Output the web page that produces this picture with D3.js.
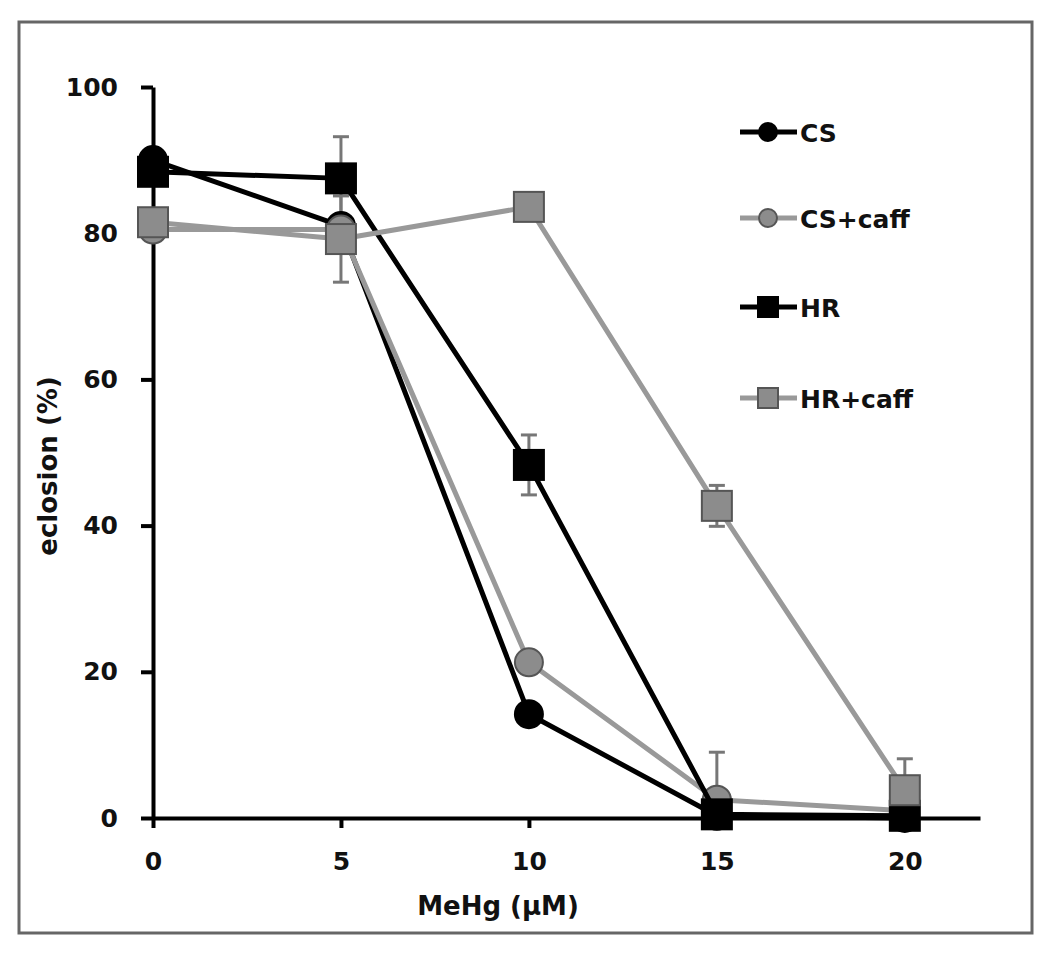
<!DOCTYPE html>
<html><head><meta charset="utf-8">
<script src="https://cdnjs.cloudflare.com/ajax/libs/d3/7.8.5/d3.min.js"></script>
<style>body{margin:0;background:#fff}svg{display:block}</style>
</head><body>
<script>
const doses = [0, 5, 10, 15, 20];
const xTicks = [0, 5, 10, 15, 20];
const yTicks = [0, 20, 40, 60, 80, 100];
const seriesNames = ["CS", "CS+caff", "HR", "HR+caff"];
const csVals     = [90.0, 81.0, 14.2, 0.3, 0.0];
const csCaffVals = [80.5, 80.5, 21.3, 2.5, 1.0];
const hrVals     = [88.4, 87.5, 48.3, 0.5, 0.3];
const hrCaffVals = [81.5, 79.2, 83.6, 42.7, 3.8];
const csErr     = [0, 0, 0, 0, 0];
const csCaffErr = [0, 0, 0, 6.5, 0];
const hrErr     = [0, 5.7, 4.1, 0, 0];
const hrCaffErr = [0, 5.9, 0, 2.8, 4.3];

const series = [
  {name: seriesNames[0], vals: csVals, err: csErr, shape: "circle", fill: "#000", stroke: "#000", line: "#000"},
  {name: seriesNames[1], vals: csCaffVals, err: csCaffErr, shape: "circle", fill: "#8c8c8c", stroke: "#555", line: "#999"},
  {name: seriesNames[2], vals: hrVals, err: hrErr, shape: "square", fill: "#000", stroke: "#000", line: "#000"},
  {name: seriesNames[3], vals: hrCaffVals, err: hrCaffErr, shape: "square", fill: "#8c8c8c", stroke: "#555", line: "#999"}
];

const W = 1050, H = 955;
const svg = d3.select("body").append("svg").attr("width", W).attr("height", H);
svg.append("rect").attr("x", 19).attr("y", 22).attr("width", 1013).attr("height", 911)
  .attr("fill", "#fff").attr("stroke", "#666").attr("stroke-width", 3);

const x = d3.scaleLinear().domain([0, 22]).range([153, 980]);
const y = d3.scaleLinear().domain([0, 100]).range([818, 87]);
const font = "'DejaVu Sans', sans-serif";

// axes
const yAxis = svg.append("g").attr("transform", `translate(${x(0)},0)`)
  .call(d3.axisLeft(y).tickValues(yTicks).tickSize(12).tickPadding(23).tickSizeOuter(0));
yAxis.select(".domain").attr("stroke", "#000").attr("stroke-width", 4);
yAxis.selectAll(".tick line").attr("stroke", "#000").attr("stroke-width", 4);
yAxis.selectAll(".tick text").attr("font-family", font).attr("font-weight", "bold").attr("font-size", 25).attr("fill", "#111");

const xAxis = svg.append("g").attr("transform", `translate(0,${y(0)})`)
  .call(d3.axisBottom(x).tickValues(xTicks).tickSize(10).tickPadding(24).tickSizeOuter(0));
xAxis.select(".domain").attr("stroke", "#000").attr("stroke-width", 4);
xAxis.selectAll(".tick line").attr("stroke", "#000").attr("stroke-width", 4);
xAxis.selectAll(".tick text").attr("font-family", font).attr("font-weight", "bold").attr("font-size", 25).attr("fill", "#111");

svg.append("text").attr("x", 498).attr("y", 915).attr("text-anchor", "middle")
  .attr("font-family", font).attr("font-weight", "bold").attr("font-size", 26).attr("fill", "#111")
  .text("MeHg (µM)");
svg.append("text").attr("transform", "translate(57,466) rotate(-90)").attr("text-anchor", "middle")
  .attr("font-family", font).attr("font-weight", "bold").attr("font-size", 26).attr("fill", "#111")
  .text("eclosion (%)");

function marker(g, s, cx, cy, r) {
  if (s.shape === "circle") {
    g.append("circle").attr("cx", cx).attr("cy", cy).attr("r", r)
      .attr("fill", s.fill).attr("stroke", s.stroke).attr("stroke-width", 2);
  } else {
    g.append("rect").attr("x", cx - r).attr("y", cy - r).attr("width", 2 * r).attr("height", 2 * r)
      .attr("fill", s.fill).attr("stroke", s.stroke).attr("stroke-width", 2);
  }
}

const plot = svg.append("g");
// error bars (lower arm clipped at the x axis)
series.forEach(s => {
  doses.forEach((d, i) => {
    if (!s.err[i]) return;
    const cx = x(d);
    const hi = s.vals[i] + s.err[i], lo = s.vals[i] - s.err[i];
    const y1 = y(hi), y2 = y(Math.max(lo, 0));
    plot.append("line").attr("x1", cx).attr("x2", cx).attr("y1", y1).attr("y2", y2)
      .attr("stroke", "#777").attr("stroke-width", 3);
    const caps = lo >= 0 ? [y1, y2] : [y1];
    caps.forEach(yy => plot.append("line").attr("x1", cx - 8).attr("x2", cx + 8).attr("y1", yy).attr("y2", yy)
      .attr("stroke", "#777").attr("stroke-width", 3));
  });
});

const lineGen = d3.line().x((d, i) => x(doses[i])).y(d => y(d));
series.forEach(s => {
  const g = plot.append("g");
  g.append("path").attr("d", lineGen(s.vals)).attr("fill", "none")
    .attr("stroke", s.line).attr("stroke-width", 5).attr("stroke-linejoin", "round");
  doses.forEach((d, i) => marker(g, s, x(d), y(s.vals[i]), s.shape === "circle" ? 14 : 15));
});

// legend
const legY = [132, 218, 307, 398];
series.forEach((s, i) => {
  const g = svg.append("g");
  g.append("line").attr("x1", 740).attr("x2", 797).attr("y1", legY[i]).attr("y2", legY[i])
    .attr("stroke", s.line).attr("stroke-width", 5);
  marker(g, s, 768, legY[i], s.shape === "circle" ? 9 : 10);
  g.append("text").attr("x", 800).attr("y", legY[i] + 10)
    .attr("font-family", font).attr("font-weight", "bold").attr("font-size", 25).attr("fill", "#111")
    .text(s.name);
});
</script>
</body></html>
